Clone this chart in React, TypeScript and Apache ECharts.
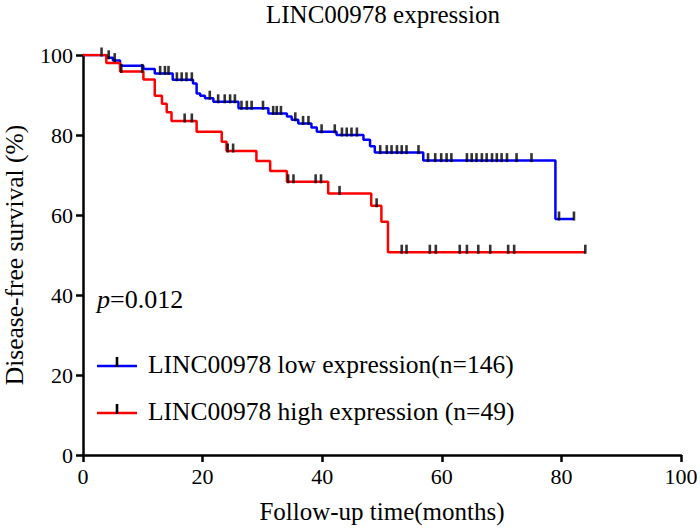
import React, { useEffect, useRef } from "react";
import * as echarts from "echarts";

const xTicks = [0, 20, 40, 60, 80, 100];
const yTicks = [0, 20, 40, 60, 80, 100];

const lowTimes = [0, 3.96, 5.0, 6.2, 10.1, 12.0, 15.0, 18.4, 19.0, 19.6, 20.4, 21.8, 26.0, 31.0, 34.1, 34.9, 36.0, 38.2, 39.1, 42.4, 46.9, 48.0, 48.8, 56.9, 79.0, 82.1];
const lowSurv = [100, 99.3, 98.6, 97.3, 96.5, 95.4, 93.8, 92.9, 90.4, 89.8, 89.2, 88.3, 86.7, 85.4, 84.6, 83.8, 82.9, 81.9, 80.8, 80.0, 78.8, 77.2, 75.6, 73.6, 59.0, 59.0];
const lowCensor = [3.1, 4.3, 5.3, 12.9, 13.7, 14.3, 15.7, 16.5, 17.3, 18.2, 21.2, 22.6, 23.7, 24.6, 25.4, 26.5, 27.4, 28.2, 30.1, 31.8, 32.4, 33.1, 35.5, 36.8, 37.7, 39.9, 42.1, 43.3, 44.1, 44.9, 45.8, 49.7, 50.8, 51.6, 52.5, 53.3, 54.1, 56.1, 57.7, 58.9, 59.9, 60.8, 61.6, 64.2, 65.0, 65.8, 66.7, 67.5, 68.4, 69.2, 70.0, 70.9, 72.5, 75.0, 79.6, 82.1];

const highTimes = [0, 3.9, 6.2, 10.1, 12.0, 13.2, 14.0, 14.8, 19.0, 23.2, 24.0, 29.0, 31.3, 34.1, 41.0, 48.2, 49.9, 51.0, 84.0];
const highSurv = [100, 98.0, 95.9, 93.9, 89.8, 87.8, 85.7, 83.5, 80.8, 78.3, 76.0, 73.5, 71.0, 68.3, 65.4, 62.3, 58.3, 50.7, 50.7];
const highCensor = [6.4, 9.9, 17.0, 18.2, 24.2, 25.1, 34.3, 35.2, 38.9, 39.8, 42.9, 49.1, 53.3, 54.1, 58.0, 59.0, 63.0, 64.2, 66.1, 68.1, 71.1, 72.1, 84.0];

const titleText = "LINC00978 expression";
const xName = "Follow-up time(months)";
const yName = "Disease-free survival (%)";
const lowLabel = "LINC00978 low expression(n=146)";
const highLabel = "LINC00978 high expression (n=49)";
const pValue = "0.012";

const FONT = '"Liberation Serif", "Times New Roman", serif';

function survAt(times: number[], surv: number[], t: number) {
  let v = surv[0];
  for (let i = 0; i < times.length; i++) {
    if (times[i] <= t) v = surv[i];
  }
  return v;
}

export default function App() {
  const ref = useRef<HTMLDivElement>(null);
  useEffect(() => {
    if (!ref.current) return;
    const chart = echarts.init(ref.current, null, { renderer: "svg" });
    const lowLine = lowTimes.map((t, i) => [t, lowSurv[i]]);
    const highLine = highTimes.map((t, i) => [t, highSurv[i]]);
    const lowC = lowCensor.map((t) => [t, survAt(lowTimes, lowSurv, t)]);
    const highC = highCensor.map((t) => [t, survAt(highTimes, highSurv, t)]);
    const censorStyle = {
      type: "scatter" as const,
      symbol: "rect",
      symbolSize: [2.6, 9],
      symbolOffset: [0, -3],
      itemStyle: { color: "#000" },
      z: 5,
      silent: true,
    };
    const legendItem = (y: number, color: string, label: string) => ({
      type: "group",
      children: [
        { type: "line", shape: { x1: 97, y1: y, x2: 137, y2: y }, style: { stroke: color, lineWidth: 2.5 } },
        { type: "rect", shape: { x: 115.7, y: y - 9, width: 2.6, height: 10 }, style: { fill: "#000" } },
        {
          type: "text",
          x: 148,
          y: y - 2,
          style: { text: label, font: `25.5px ${FONT}`, fill: "#000", verticalAlign: "middle", align: "left" },
        },
      ],
    });
    chart.setOption({
      animation: false,
      grid: { left: 83, right: 19, top: 55, bottom: 73, containLabel: false, outerBoundsMode: "none" },
      xAxis: {
        type: "value",
        min: 0,
        max: 100,
        interval: 20,
        name: xName,
        nameLocation: "middle",
        nameGap: 44,
        nameTextStyle: { fontFamily: FONT, fontSize: 25, color: "#000" },
        axisLine: { onZero: false, lineStyle: { color: "#000", width: 2.5 } },
        axisTick: { length: 7, lineStyle: { color: "#000", width: 2.5 } },
        axisLabel: {
          fontFamily: FONT,
          fontSize: 22,
          color: "#000",
          margin: 10,
          formatter: (v: number) => (xTicks.includes(v) ? String(v) : ""),
        },
        splitLine: { show: false },
      },
      yAxis: {
        type: "value",
        min: 0,
        max: 100,
        interval: 20,
        name: yName,
        nameLocation: "middle",
        nameGap: 56,
        nameTextStyle: { fontFamily: FONT, fontSize: 25.5, color: "#000" },
        axisLine: { show: true, onZero: false, lineStyle: { color: "#000", width: 2.5 } },
        axisTick: { show: true, length: 7, lineStyle: { color: "#000", width: 2.5 } },
        axisLabel: {
          fontFamily: FONT,
          fontSize: 22,
          color: "#000",
          margin: 10,
          formatter: (v: number) => (yTicks.includes(v) ? String(v) : ""),
        },
        splitLine: { show: false },
      },
      graphic: [
        {
          type: "text",
          x: 383,
          y: 14,
          style: {
            text: titleText,
            font: `25px ${FONT}`,
            fill: "#000",
            align: "center",
            verticalAlign: "middle",
          },
        },
        {
          type: "text",
          x: 97,
          y: 299,
          style: {
            text: `{i|p}=${pValue}`,
            font: `26px ${FONT}`,
            fill: "#000",
            verticalAlign: "middle",
            rich: { i: { fontStyle: "italic", fontFamily: FONT, fontSize: 26 } },
          },
        },
        legendItem(366, "#0000ff", lowLabel),
        legendItem(413, "#ff0000", highLabel),
      ],
      series: [
        {
          name: "low",
          type: "line",
          step: "end",
          data: lowLine,
          showSymbol: false,
          lineStyle: { color: "#0000ff", width: 2.5 },
          z: 2,
        },
        {
          name: "high",
          type: "line",
          step: "end",
          data: highLine,
          showSymbol: false,
          lineStyle: { color: "#ff0000", width: 2.5 },
          z: 3,
        },
        { ...censorStyle, name: "lowCensor", data: lowC },
        { ...censorStyle, name: "highCensor", data: highC },
      ],
    });
    return () => chart.dispose();
  }, []);
  return <div ref={ref} style={{ width: 700, height: 528, position: "absolute", left: 0, top: 0 }} />;
}
